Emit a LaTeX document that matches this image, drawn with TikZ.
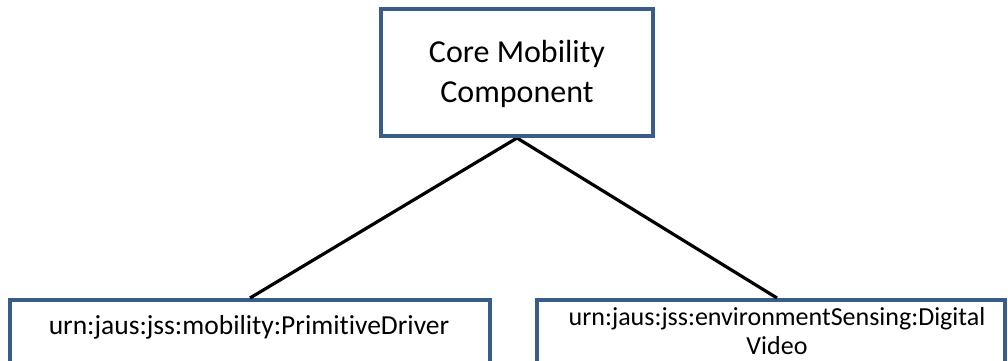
\documentclass[tikz,border=0pt]{standalone}
\usepackage{fontspec}
\setmainfont{Carlito}[Ligatures=NoCommon]
\definecolor{boxblue}{HTML}{385D8A}
\begin{document}
\begin{tikzpicture}[x=1pt,y=-1pt,
  box/.style={draw=boxblue,line width=4pt,fill=white,inner sep=0pt},
  conn/.style={draw=black,line width=3.2pt},
  toptext/.style={font=\fontsize{32}{40}\selectfont,align=center,inner sep=0pt},
  bottext/.style={font=\fontsize{26}{29}\selectfont,align=center,inner sep=0pt}]
\useasboundingbox (0,0) rectangle (1008,360);
\clip (0,0) rectangle (1008,360);
\node[box,minimum width=272pt,minimum height=127pt] (core) at (517,72.5) {};
\node[box,minimum width=480pt,minimum height=90pt,anchor=north] (pd) at (250,298) {};
\node[box,minimum width=468pt,minimum height=90pt,anchor=north] (dv) at (771,298) {};
\draw[conn] (core.south) -- (pd.north);
\draw[conn] (core.south) -- ([xshift=6pt]dv.north);
\node[box,minimum width=272pt,minimum height=127pt,fill=none] (coreb) at (517,72.5) {};
\node[toptext] (coret) at (517,74) {Core Mobility\\Component};
\node[bottext,font=\fontsize{27.5}{30}\selectfont] (pdt) at (249,327) {urn:jaus:jss:mobility:PrimitiveDriver};
\node[bottext] (dvt) at (777,331) {urn:jaus:jss:environmentSensing:Digital\\Video};
\end{tikzpicture}
\end{document}
